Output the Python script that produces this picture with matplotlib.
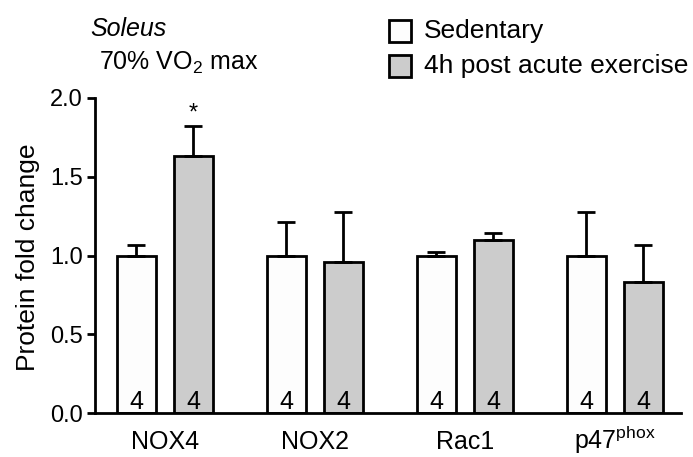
import numpy as np
import matplotlib
matplotlib.use("Agg")
import matplotlib.pyplot as plt
from matplotlib.patches import Rectangle

plt.rcParams['font.family'] = ['Liberation Sans', 'DejaVu Sans']
plt.rcParams['mathtext.fontset'] = 'custom'
plt.rcParams['mathtext.rm'] = 'Liberation Sans'
plt.rcParams['mathtext.it'] = 'Liberation Sans:italic'

# data
proteins = ['NOX4', 'NOX2', 'Rac1', 'p47$^{\\mathrm{phox}}$']
sedentary = [1.0, 1.0, 1.0, 1.0]
sedentary_err = [0.067, 0.215, 0.02, 0.276]
exercise = [1.634, 0.959, 1.10, 0.83]
exercise_err = [0.19, 0.315, 0.04, 0.237]
n_sed = [4, 4, 4, 4]
n_ex = [4, 4, 4, 4]
legend_labels = ['Sedentary', '4h post acute exercise']

W, H = 693, 457
fig = plt.figure(figsize=(W / 100, H / 100), dpi=100)
ax = fig.add_axes([95 / W, 1 - 413 / H, 586 / W, 315 / H])

x = np.arange(len(proteins))
off = 0.19
bw = 0.257
lw = 2.0
gray = '#cccccc'

ekw = dict(elinewidth=lw, capthick=lw, capsize=6.5, ecolor='black')
ax.bar(x - off, sedentary, bw, color='#fdfdfd', edgecolor='black', linewidth=lw,
       yerr=[np.zeros(4), sedentary_err], error_kw=ekw, zorder=2)
ax.bar(x + off, exercise, bw, color=gray, edgecolor='black', linewidth=lw,
       yerr=[np.zeros(4), exercise_err], error_kw=ekw, zorder=2)

for i in range(len(proteins)):
    ax.text(x[i] - off, 0.07, str(n_sed[i]), ha='center', va='center', fontsize=18, zorder=3)
    ax.text(x[i] + off, 0.07, str(n_ex[i]), ha='center', va='center', fontsize=18, zorder=3)

# significance
ax.text(x[0] + off, 1.90, '*', ha='center', va='center', fontsize=17)

ax.set_xlim(-0.465, 3.44)
ax.set_ylim(0, 2.0)
ax.set_yticks([0, 0.5, 1.0, 1.5, 2.0])
ax.set_yticklabels(['0.0', '0.5', '1.0', '1.5', '2.0'])
ax.set_xticks(x)
ax.set_xticklabels(proteins)
ax.tick_params(axis='y', length=6, width=lw, pad=3, labelsize=17)
ax.tick_params(axis='x', length=0, pad=26, labelsize=18)
for t in ax.get_xticklabels():
    t.set_verticalalignment('baseline')
for s in ['top', 'right']:
    ax.spines[s].set_visible(False)
for s in ['left', 'bottom']:
    ax.spines[s].set_linewidth(lw)

fig.text(28 / W, 1 - 257.5 / H, 'Protein fold change', rotation=90,
         ha='center', va='center', fontsize=19)

fig.text(90 / W, 1 - 29 / H, 'Soleus', style='italic', fontsize=18, va='center')
fig.text(99 / W, 1 - 63 / H, '70% VO$_2$ max', fontsize=18, va='center')

# legend
for j, (lab, fc) in enumerate(zip(legend_labels, ['#fdfdfd', gray])):
    yc = 31 + j * 35
    fig.add_artist(Rectangle((389 / W, 1 - (yc + 11) / H), 22 / W, 22 / H,
                             transform=fig.transFigure, facecolor=fc,
                             edgecolor='black', linewidth=lw))
    fig.text(424 / W, 1 - yc / H, lab, fontsize=19, va='center')

fig.savefig('out.png', dpi=100)
